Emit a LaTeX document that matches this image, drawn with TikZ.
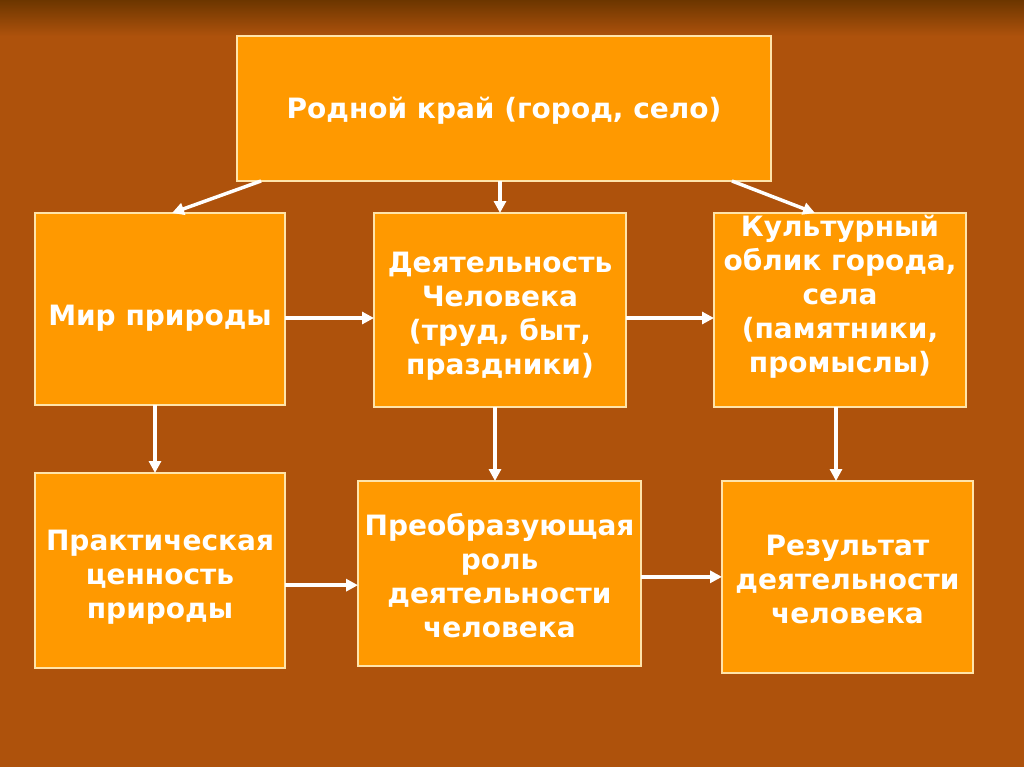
\documentclass[tikz,border=0pt]{standalone}
\usepackage{fontspec}
\setmainfont{DejaVu Sans}
\usetikzlibrary{arrows.meta,calc}

\definecolor{bgbrown}{RGB}{174,82,12}
\definecolor{bgdark}{RGB}{108,54,0}
\definecolor{boxfill}{RGB}{255,153,0}
\definecolor{boxline}{RGB}{255,228,170}

\tikzset{
	box/.style={draw=boxline, line width=1.1pt, fill=boxfill, outer sep=0pt},
	txt/.style={text=white, font=\fontsize{21pt}{25.5pt}\selectfont\bfseries, align=center},
	arr/.style={draw=white, line width=2.6pt, -{Triangle[length=9pt,width=9pt]}}}
\tikzset{every picture/.style={line width=0.75pt}}

\begin{document}
\begin{tikzpicture}[x=0.75pt,y=0.75pt,yscale=-1,xscale=1]
	\useasboundingbox (0,0) rectangle (1024,767);

	%Background
	\fill [bgbrown] (0,0) rectangle (1024,767);
	\shade [top color=bgdark, bottom color=bgbrown] (0,0) rectangle (1024,36);

	%Shape: Rectangle [id:top]
	\node [box, minimum width=400.5pt, minimum height=108.75pt] (kraj) at (504,108.5) {};
	%Shape: Rectangle [id:ml]
	\node [box, minimum width=187.5pt, minimum height=144pt] (mir) at (160,309) {};
	%Shape: Rectangle [id:mc]
	\node [box, minimum width=189pt, minimum height=145.5pt] (deyat) at (500,310) {};
	%Shape: Rectangle [id:mr]
	\node [box, minimum width=189pt, minimum height=145.5pt] (kult) at (840,310) {};
	%Shape: Rectangle [id:bl]
	\node [box, minimum width=187.5pt, minimum height=146.25pt] (prakt) at (160,570.5) {};
	%Shape: Rectangle [id:bc]
	\node [box, minimum width=212.25pt, minimum height=138.75pt] (preob) at (499.5,573.5) {};
	%Shape: Rectangle [id:br]
	\node [box, minimum width=188.25pt, minimum height=144pt] (rez) at (847.5,577) {};

	%Straight Lines
	\draw [arr] ([xshift=18pt]kraj.south west) -- ([xshift=9pt]mir.north);
	\draw [arr] (kraj.south -| deyat.north) -- (deyat.north);
	\draw [arr] ([xshift=-29.25pt]kraj.south east) -- ([xshift=-18.75pt]kult.north);
	\draw [arr] ([yshift=6.75pt]mir.east) -- ([yshift=6.75pt]mir.east -| deyat.west);
	\draw [arr] ([yshift=6pt]deyat.east) -- ([yshift=6pt]deyat.east -| kult.west);
	\draw [arr] ([xshift=-3.75pt]mir.south) -- ([xshift=-3.75pt]mir.south |- prakt.north);
	\draw [arr] ([xshift=-3.75pt]deyat.south) -- ([xshift=-3.75pt]deyat.south |- preob.north);
	\draw [arr] ([xshift=-3pt]kult.south) -- ([xshift=-3pt]kult.south |- rez.north);
	\draw [arr] ([yshift=11pt]prakt.east) -- ([yshift=11pt]prakt.east -| preob.west);
	\draw [arr] ([yshift=2.5pt]preob.east) -- ([yshift=2.5pt]preob.east -| rez.west);

	% Text Node
	\node [txt] (t-kraj) at ([yshift=1.5pt]kraj) {Родной край (город, село)};
	% Text Node
	\node [txt] (t-mir) at ([yshift=6.75pt]mir) {Мир природы};
	% Text Node
	\node [txt] (t-deyat) at ([yshift=4.4pt]deyat) {Деятельность\\Человека\\(труд, быт,\\праздники)};
	% Text Node
	\node [txt] (t-kult) at ([yshift=-9.9pt]kult) {Культурный\\облик города,\\села\\(памятники,\\промыслы)};
	% Text Node
	\node [txt] (t-prakt) at ([yshift=5.1pt]prakt) {Практическая\\ценность\\природы};
	% Text Node
	\node [txt] (t-preob) at ([yshift=1.5pt]preob) {Преобразующая\\роль\\деятельности\\человека};
	% Text Node
	\node [txt] (t-rez) at ([yshift=1.5pt]rez) {Результат\\деятельности\\человека};

\end{tikzpicture}
\end{document}
